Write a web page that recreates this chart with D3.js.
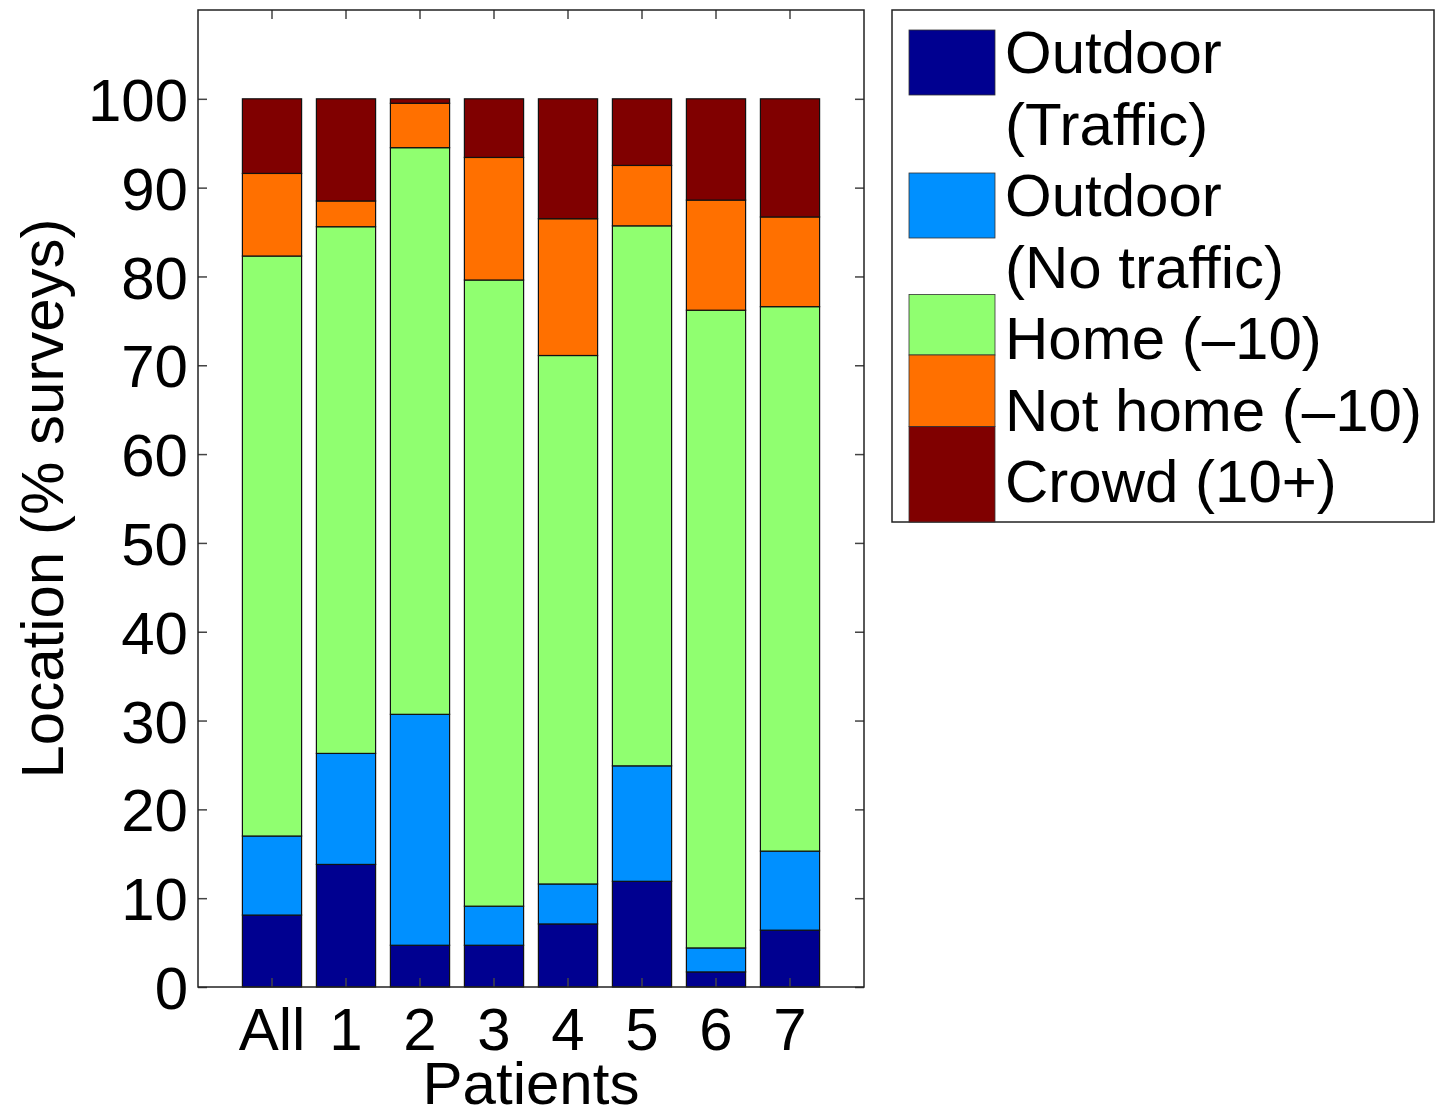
<!DOCTYPE html>
<html>
<head>
<meta charset="utf-8">
<script src="https://cdn.jsdelivr.net/npm/d3@7"></script>
<style>
  body { margin: 0; background: #fff; }
  svg { font-family: "Liberation Sans", Arial, Helvetica, sans-serif; }
</style>
</head>
<body>
<div id="chart"></div>
<script>
// data (% of surveys per location, stacked)
const patients = ["All", "1", "2", "3", "4", "5", "6", "7"];
const outdoorTraffic   = [8.1, 13.8, 4.7, 4.7, 7.1, 11.9, 1.7, 6.4];
const outdoorNoTraffic = [8.9, 12.5, 26.0, 4.4, 4.5, 13.0, 2.7, 8.9];
const homeSmall        = [65.3, 59.3, 63.8, 70.5, 59.5, 60.8, 71.8, 61.3];
const notHomeSmall     = [9.3, 2.9, 5.0, 13.8, 15.4, 6.8, 12.4, 10.1];
const crowd            = [8.4, 11.5, 0.5, 6.6, 13.5, 7.5, 11.4, 13.3];
const yTicks = [0, 10, 20, 30, 40, 50, 60, 70, 80, 90, 100];

const legendLines = [["Outdoor", "(Traffic)"], ["Outdoor", "(No traffic)"], ["Home (\u201310)"], ["Not home (\u201310)"], ["Crowd (10+)"]];
const colors = ["#000090", "#0090ff", "#90ff70", "#ff7000", "#800000"];

const WIDTH = 1435, HEIGHT = 1115;
const PLOT = {left: 198, right: 864, top: 10, bottom: 987};
const FONT = 60;

// build rows for d3.stack
const table = patients.map((p, i) => ({
  patient: p,
  s0: outdoorTraffic[i],
  s1: outdoorNoTraffic[i],
  s2: homeSmall[i],
  s3: notHomeSmall[i],
  s4: crowd[i]
}));
const keys = ["s0", "s1", "s2", "s3", "s4"];
const stacked = d3.stack().keys(keys)(table);

const svg = d3.select("#chart").append("svg")
  .attr("width", WIDTH)
  .attr("height", HEIGHT);

const X_SCALE = d3.scaleBand()
  .domain(patients)
  .range([PLOT.left, PLOT.right])
  .paddingInner(0.2)
  .paddingOuter(0.6);

const Y_SCALE = d3.scaleLinear()
  .domain([0, 110])
  .range([PLOT.bottom, PLOT.top]);

// bars
svg.append("g").selectAll("g")
  .data(stacked)
  .enter().append("g")
    .attr("fill", (d, i) => colors[i])
  .selectAll("rect")
  .data(d => d)
  .enter().append("rect")
    .attr("x", d => X_SCALE(d.data.patient))
    .attr("y", d => Y_SCALE(d[1]))
    .attr("width", X_SCALE.bandwidth())
    .attr("height", d => Y_SCALE(d[0]) - Y_SCALE(d[1]))
    .attr("stroke", "#111")
    .attr("stroke-width", 1.2);

// axes, ticks pointing inward like matlab
const tickLen = 9;
const yLeft = svg.append("g")
  .attr("transform", "translate(" + PLOT.left + ",0)")
  .call(d3.axisLeft(Y_SCALE).tickValues(yTicks).tickSize(-tickLen).tickSizeOuter(0).tickPadding(10));
const yRight = svg.append("g")
  .attr("transform", "translate(" + PLOT.right + ",0)")
  .call(d3.axisRight(Y_SCALE).tickValues(yTicks).tickSize(-tickLen).tickSizeOuter(0).tickFormat(""));
const xBottom = svg.append("g")
  .attr("transform", "translate(0," + PLOT.bottom + ")")
  .call(d3.axisBottom(X_SCALE).tickSize(-tickLen).tickSizeOuter(0).tickPadding(20));
const xTop = svg.append("g")
  .attr("transform", "translate(0," + PLOT.top + ")")
  .call(d3.axisTop(X_SCALE).tickSize(-tickLen).tickSizeOuter(0).tickFormat(""));

[yLeft, yRight, xBottom, xTop].forEach(g => {
  g.select(".domain").remove();
  g.selectAll(".tick line").attr("stroke", "#444").attr("stroke-width", 1.5);
  g.selectAll(".tick text")
    .attr("font-size", FONT)
    .attr("font-family", "Liberation Sans, Arial, sans-serif")
    .attr("fill", "#000");
});
yLeft.selectAll(".tick text").attr("dy", "0.36em");

// plot frame
svg.append("rect")
  .attr("x", PLOT.left)
  .attr("y", PLOT.top)
  .attr("width", PLOT.right - PLOT.left)
  .attr("height", PLOT.bottom - PLOT.top)
  .attr("fill", "none")
  .attr("stroke", "#222")
  .attr("stroke-width", 1.5);

// axis titles
svg.append("text")
  .attr("x", (PLOT.left + PLOT.right) / 2)
  .attr("y", 1104)
  .attr("text-anchor", "middle")
  .attr("font-size", FONT)
  .text("Patients");

svg.append("text")
  .attr("transform", "translate(63," + ((PLOT.top + PLOT.bottom) / 2) + ") rotate(-90)")
  .attr("text-anchor", "middle")
  .attr("font-size", FONT)
  .text("Location (% surveys)");

// legend
const LEG = {x: 892, y: 10, w: 542, h: 512};
const legend = svg.append("g");
legend.append("rect")
  .attr("x", LEG.x).attr("y", LEG.y)
  .attr("width", LEG.w).attr("height", LEG.h)
  .attr("fill", "#fff")
  .attr("stroke", "#222")
  .attr("stroke-width", 1.5);

const lineStep = 71.5;
const firstBase = 73;
let row = 0;
let prevBottom = null;
legendLines.forEach((lines, i) => {
  const base = firstBase + row * lineStep;
  let top, bottom;
  if (lines.length > 1) {
    top = base - 43;
    bottom = base + 22;
  } else {
    top = prevBottom === null ? base - 43 : prevBottom;
    bottom = (i === legendLines.length - 1) ? LEG.y + LEG.h : base - 4;
  }
  // single entries after a two-line entry start just under its last line
  if (lines.length === 1 && legendLines[i - 1] && legendLines[i - 1].length > 1) {
    top = firstBase + (row - 1) * lineStep + 7;
  }
  legend.append("rect")
    .attr("x", 909).attr("y", top)
    .attr("width", 86).attr("height", bottom - top)
    .attr("fill", colors[i])
    .attr("stroke", "#333")
    .attr("stroke-width", 0.8);
  prevBottom = bottom;
  lines.forEach((ln, j) => {
    legend.append("text")
      .attr("x", 1005)
      .attr("y", base + j * lineStep)
      .attr("font-size", FONT)
      .text(ln);
  });
  row += lines.length;
});
</script>
</body>
</html>
